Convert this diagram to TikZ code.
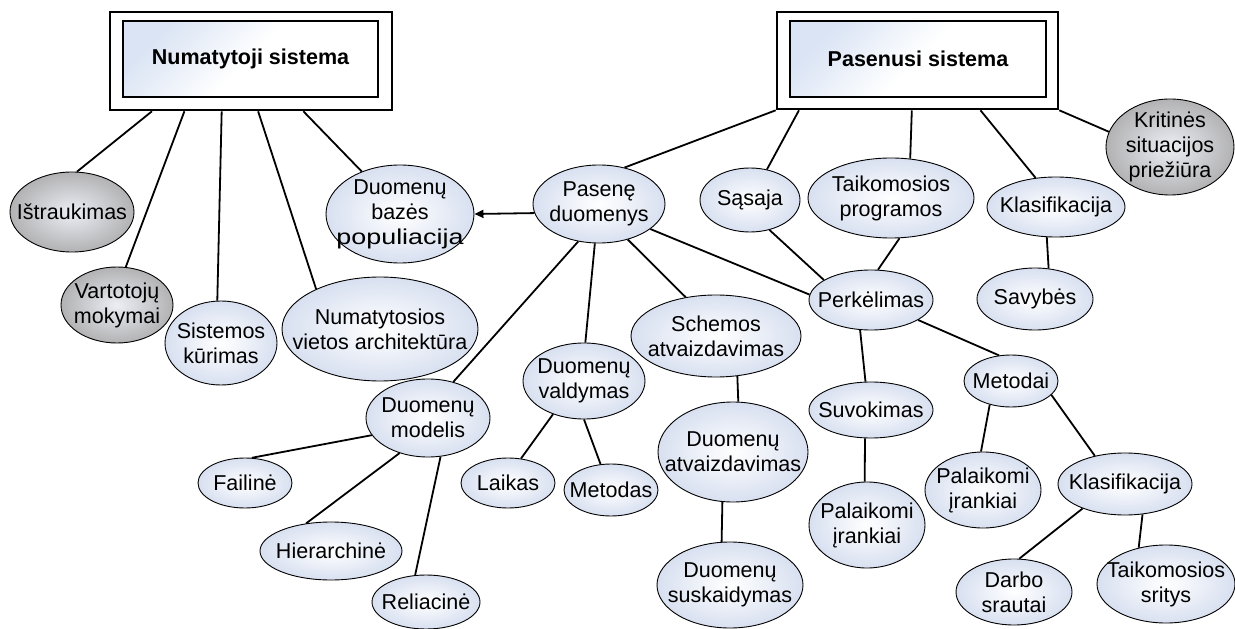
\documentclass[tikz,border=0pt]{standalone}
\usepackage{fontspec}
\setmainfont{Liberation Sans}
\usetikzlibrary{shapes.geometric,arrows.meta,calc}
\definecolor{elblue}{RGB}{216,224,240}
\definecolor{boxblue}{RGB}{218,228,244}
\definecolor{grin}{RGB}{236,238,244}
\definecolor{grout}{RGB}{178,178,180}
\newcommand\nodefont{\fontsize{21.6}{25}\selectfont}
\tikzset{
  txt/.style={font=\nodefont, align=center, inner sep=0pt},
  el/.style={ellipse, draw, line width=0.9bp, inner sep=0pt,
             inner color=white, outer color=elblue, label={[txt]center:#1}},
  gel/.style={el={#1}, inner color=grin, outer color=grout},
  outerbox/.style={rectangle, draw, line width=2.6bp, fill=white, inner sep=0pt},
  innerbox/.style={rectangle, draw, line width=2.6bp, inner sep=0pt,
             font=\nodefont\bfseries, top color=boxblue, bottom color=white,
             middle color=white, shading angle=45},
  link/.style={line width=1.8bp},
}
\begin{document}
\begin{tikzpicture}[x=1bp,y=-1bp]
\useasboundingbox (0,0) rectangle (1235,629);

% two system boxes with a double frame
\node[outerbox, minimum width=282bp, minimum height=98bp] (nbox) at (251,61) {};
\node[innerbox, minimum width=255bp, minimum height=76bp] (nin) at (250.5,59) {Numatytoji sistema};
\node[outerbox, minimum width=281bp, minimum height=97bp] (pbox) at (917.5,60.5) {};
\node[innerbox, minimum width=256bp, minimum height=76bp] (pin) at (918,59) {Pasenusi sistema};

% ellipses
\node[gel={Ištraukimas}, minimum width=124bp, minimum height=80bp] (ist) at (72,212) {};
\node[gel={Vartotojų\\mokymai}, minimum width=112bp, minimum height=76bp] (vart) at (117,305) {};
\node[el={Sistemos\\kūrimas}, minimum width=112bp, minimum height=84bp] (sist) at (221,343) {};
\node[el={Numatytosios\\vietos architektūra}, minimum width=196bp, minimum height=104bp] (numv) at (380,329) {};
\node[el={Duomenų\\bazės\\\scalebox{1.25}[1]{populiacija}}, minimum width=148bp, minimum height=98bp] (dbp) at (400,214) {};
\node[el={Pasenę\\duomenys}, minimum width=132bp, minimum height=78bp] (pas) at (599,204) {};
\node[el={Sąsaja}, minimum width=100bp, minimum height=64bp] (sas) at (750,200) {};
\node[el={Taikomosios\\programos}, minimum width=166bp, minimum height=80bp] (taik) at (891,198) {};
\node[el={Klasifikacija}, minimum width=138bp, minimum height=60bp] (klas) at (1056,207) {};
\node[gel={Kritinės\\situacijos\\priežiūra}, minimum width=128bp, minimum height=96bp] (krit) at (1170,147) {};
\node[el={Savybės}, minimum width=116bp, minimum height=62bp] (sav) at (1035,299) {};
\node[el={Perkėlimas}, minimum width=124bp, minimum height=60bp] (perk) at (871,300) {};
\node[el={Schemos\\atvaizdavimas}, minimum width=170bp, minimum height=82bp] (schem) at (716,336) {};
\node[el={Duomenų\\valdymas}, minimum width=122bp, minimum height=76bp] (vald) at (584,381) {};
\node[el={Duomenų\\modelis}, minimum width=124bp, minimum height=78bp] (model) at (428,418) {};
\node[el={Laikas}, minimum width=94bp, minimum height=50bp] (laik) at (508,483) {};
\node[el={Metodas}, minimum width=94bp, minimum height=52bp] (metd) at (611,490) {};
\node[el={Duomenų\\atvaizdavimas}, minimum width=150bp, minimum height=100bp] (atv) at (733,452) {};
\node[el={Duomenų\\suskaidymas}, minimum width=146bp, minimum height=86bp] (susk) at (730,585) {};
\node[el={Failinė}, minimum width=94bp, minimum height=50bp] (fail) at (245,483) {};
\node[el={Hierarchinė}, minimum width=142bp, minimum height=58bp] (hier) at (331,551) {};
\node[el={Reliacinė}, minimum width=108bp, minimum height=54bp] (rel) at (426,602) {};
\node[el={Suvokimas}, minimum width=124bp, minimum height=56bp] (suv) at (871,410) {};
\node[el={Palaikomi\\įrankiai}, minimum width=116bp, minimum height=86bp] (pal1) at (867,525) {};
\node[el={Metodai}, minimum width=94bp, minimum height=52bp] (meto) at (1011,381) {};
\node[el={Palaikomi\\įrankiai}, minimum width=116bp, minimum height=76bp] (pal2) at (983,490) {};
\node[el={Klasifikacija}, minimum width=134bp, minimum height=62bp] (klas2) at (1125,484) {};
\node[el={Darbo\\srautai}, minimum width=116bp, minimum height=66bp] (darb) at (1014,592) {};
\node[el={Taikomosios\\sritys}, minimum width=138bp, minimum height=78bp] (srit) at (1166,584) {};

% links of the target system
\draw[link] ($(nbox.south west)!0.152!(nbox.south east)$) -- (ist.83);
\draw[link] ($(nbox.south west)!0.266!(nbox.south east)$) -- (vart.77);
\draw[link] ($(nbox.south west)!0.397!(nbox.south east)$) -- (sist.95);
\draw[link] ($(nbox.south west)!0.525!(nbox.south east)$) -- (numv.148);
\draw[link] ($(nbox.south west)!0.684!(nbox.south east)$) -- (dbp.132);

% links of the legacy system
\draw[link] (pbox.south west) -- (pas.55);
\draw[link] ($(pbox.south west)!0.082!(pbox.south east)$) -- (sas.61);
\draw[link] ($(pbox.south west)!0.480!(pbox.south east)$) -- (taik.64);
\draw[link] ($(pbox.south west)!0.722!(pbox.south east)$) -- (klas.125);
\draw[link] (pbox.south east) -- (krit.166);

% legacy data
\draw[link, -{Triangle[length=9bp,width=8bp]}] (pas.188) -- (dbp.east);
\draw[link] (pas.-26) -- (perk.175);
\draw[link] (pas.-51) -- (schem.128);
\draw[link] (pas.264) -- (vald.88);
\draw[link] (pas.241) -- (model.55);

% migration
\draw[link] (sas.-57) -- (perk.157);
\draw[link] (taik.282) -- (perk.77);
\draw[link] (klas.253) -- (sav.66);
\draw[link] (perk.337) -- (meto.115);
\draw[link] (perk.250) -- (suv.101);
\draw[link] (suv.258) -- (pal1.93);
\draw[link] (meto.228) -- (pal2.93);
\draw[link] (meto.341) -- (klas2.137);
\draw[link] (klas2.210) -- (darb.81);
\draw[link] (klas2.300) -- (srit.127);

% schema and data mapping
\draw[link] (schem.298) -- (atv.84);
\draw[link] (atv.258) -- (susk.101);
\draw[link] (vald.227) -- (laik.62);
\draw[link] (vald.270) -- (metd.112);
\draw[link] (model.197) -- (fail.75);
\draw[link] (model.231) -- (hier.132);
\draw[link] (model.288) -- (rel.112);
\end{tikzpicture}
\end{document}
